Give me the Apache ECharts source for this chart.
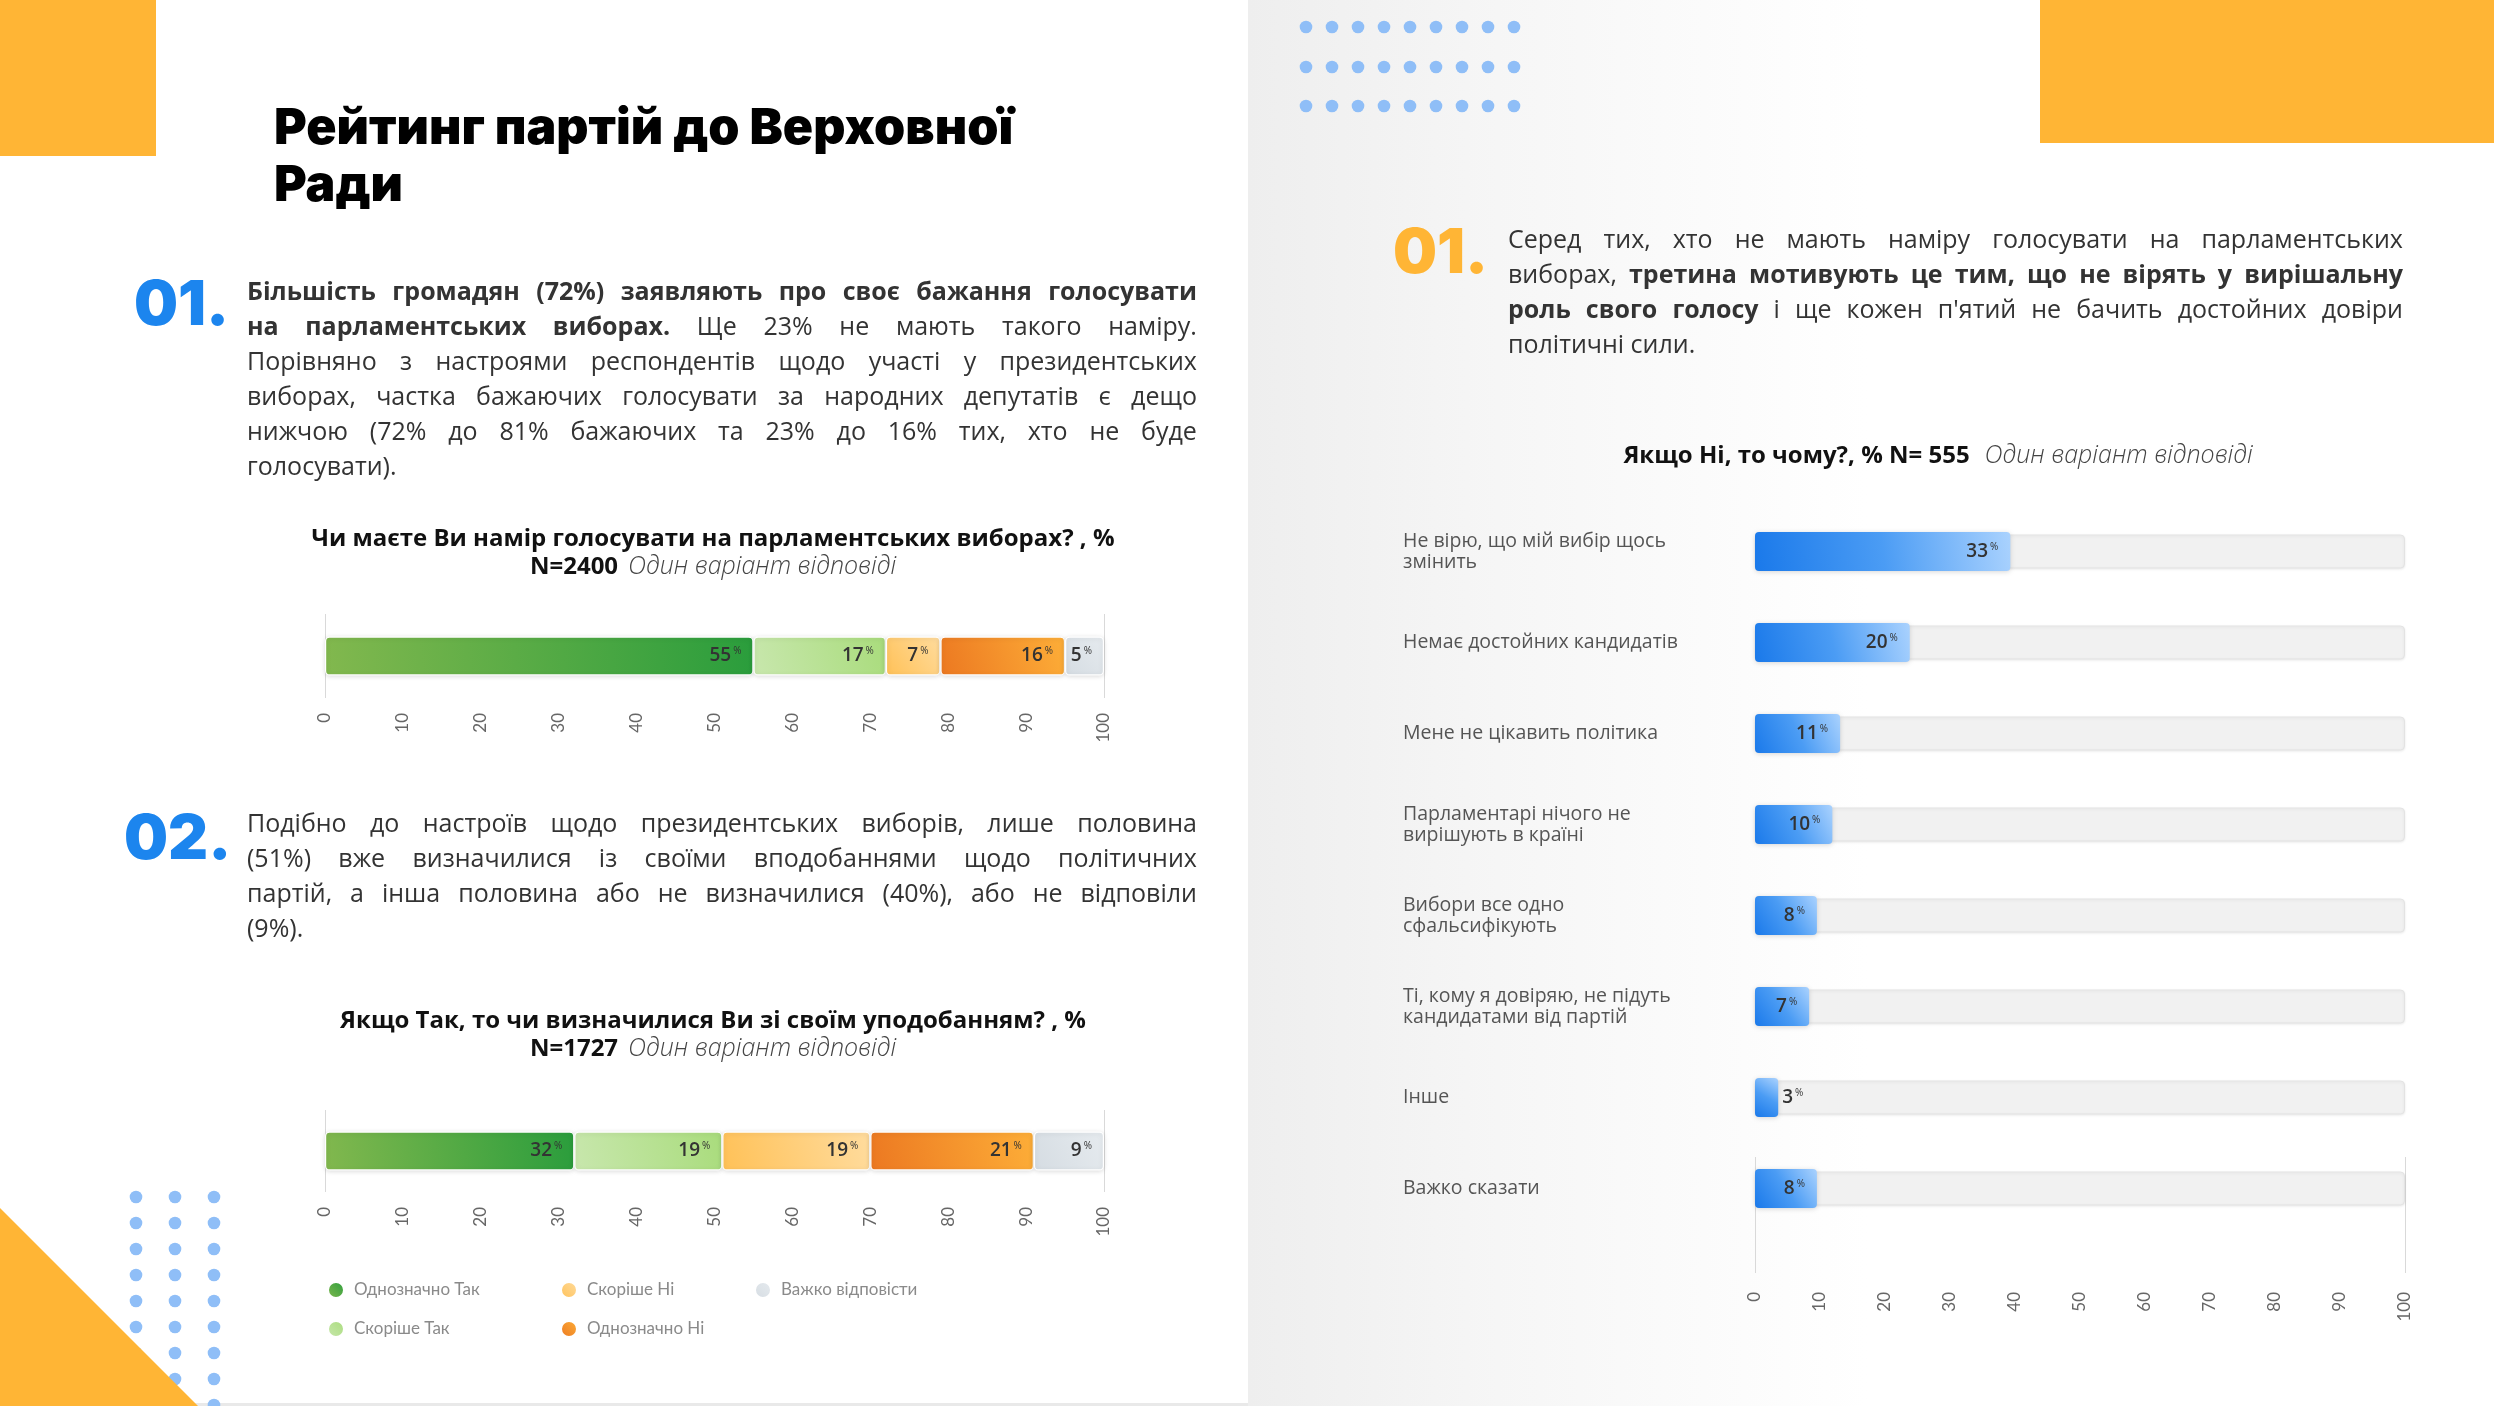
<!DOCTYPE html>
<html>
<head>
<meta charset="utf-8">
<script src="https://cdn.jsdelivr.net/npm/echarts@6/dist/echarts.min.js"></script>
<style>
html,body{margin:0;padding:0;width:2494px;height:1406px;overflow:hidden;background:#fff;}
#leftbg{position:absolute;left:0;top:0;width:1248px;height:1406px;background:#fff;}
#rightbg{position:absolute;left:1248px;top:0;width:1246px;height:1406px;background:linear-gradient(to right,#eeeeee 0px,#f6f6f6 250px,#ffffff 620px);}
#bottomstrip{position:absolute;left:0;top:1403px;width:1248px;height:3px;background:#e9e9e9;}
#chart{position:absolute;left:0;top:0;width:2494px;height:1406px;}
.para{position:absolute;font-family:'Open Sans',sans-serif;font-size:25px;color:#333;z-index:5;}
.line{height:35px;line-height:35px;white-space:nowrap;}
.line.j{display:flex;justify-content:space-between;}
.b{font-weight:700;}
</style>
</head>
<body>
<div id="leftbg"></div>
<div id="rightbg"></div>
<div id="bottomstrip"></div>
<div id="chart"></div>
<div class="para" id="p1" style="left:247px;top:273px;width:950px;"></div>
<div class="para" id="p2" style="left:247px;top:805px;width:950px;"></div>
<div class="para" id="p3" style="left:1508px;top:221px;width:895px;"></div>
<script>
// ---------------- DATA ----------------
const answerNames = ['Однозначно Так', 'Скоріше Так', 'Скоріше Ні', 'Однозначно Ні', 'Важко відповісти'];
const intentValues = [55, 17, 7, 16, 5];        // Чи маєте Ви намір голосувати ... N=2400
const certaintyValues = [32, 19, 19, 21, 9];    // Якщо Так, то чи визначилися ... N=1727
const reasonCategories = [
  'Не вірю, що мій вибір щось\nзмінить',
  'Немає достойних кандидатів',
  'Мене не цікавить політика',
  'Парламентарі нічого не\nвирішують в країні',
  'Вибори все одно\nсфальсифікують',
  'Ті, кому я довіряю, не підуть\nкандидатами від партій',
  'Інше',
  'Важко сказати'
];
const reasonValues = [33, 20, 11, 10, 8, 7, 3, 8]; // Якщо Ні, то чому? N=555
const tickMin = 0, tickMax = 100, tickStep = 10;
const reasonScaleMax = 84; // bar scale used in the reference's right chart

// ---------------- TEXT ----------------
const para1 = [
  [['Більшість громадян (72%) заявляють про своє бажання голосувати', 1]],
  [['на парламентських виборах.', 1], [' Ще 23% не мають такого наміру.', 0]],
  [['Порівняно з настроями респондентів щодо участі у президентських', 0]],
  [['виборах, частка бажаючих голосувати за народних депутатів є дещо', 0]],
  [['нижчою (72% до 81% бажаючих та 23% до 16% тих, хто не буде', 0]],
  [['голосувати).', 0]]
];
const para2 = [
  [['Подібно до настроїв щодо президентських виборів, лише половина', 0]],
  [['(51%) вже визначилися із своїми вподобаннями щодо політичних', 0]],
  [['партій, а інша половина або не визначилися (40%), або не відповіли', 0]],
  [['(9%).', 0]]
];
const para3 = [
  [['Серед тих, хто не мають наміру голосувати на парламентських', 0]],
  [['виборах, ', 0], ['третина мотивують це тим, що не вірять у вирішальну', 1]],
  [['роль свого голосу', 1], [' і ще кожен п\'ятий не бачить достойних довіри', 0]],
  [['політичні сили.', 0]]
];
function renderPara(el, lines) {
  lines.forEach((segs, li) => {
    const d = document.createElement('div');
    const last = li === lines.length - 1;
    d.className = 'line' + (last ? '' : ' j');
    if (last) {
      segs.forEach(([t, b]) => { const s = document.createElement('span'); if (b) s.className = 'b'; s.textContent = t; d.appendChild(s); });
    } else {
      segs.forEach(([t, b]) => {
        t.split(' ').filter(w => w.length).forEach(w => {
          const s = document.createElement('span'); if (b) s.className = 'b'; s.textContent = w; d.appendChild(s);
        });
      });
    }
    el.appendChild(d);
  });
}
renderPara(document.getElementById('p1'), para1);
renderPara(document.getElementById('p2'), para2);
renderPara(document.getElementById('p3'), para3);

// ---------------- CHART ----------------
function grad(c1, c2, c3) {
  const stops = c3 ? [{offset:0,color:c1},{offset:0.5,color:c2},{offset:1,color:c3}] : [{offset:0,color:c1},{offset:1,color:c2}];
  return {type:'linear', x:0, y:1, x2:1, y2:0, colorStops:stops};
}
const answerColors = [
  grad('#82b84e', '#2a9d3c'),
  grad('#c8e7ad', '#a9dc7c'),
  grad('#ffc157', '#ffdc9e'),
  grad('#ec7821', '#fdae38'),
  grad('#d5dce2', '#e6ebef')
];
const valueRich = {
  v: {fontFamily:'Open Sans', fontSize:19, fontWeight:600, color:'#333'},
  p: {fontFamily:'Open Sans', fontSize:10, color:'#333', padding:[0,0,9,2]}
};
const labelFmt = p => '{v|' + p.value + '}{p|%}';
const edgeLines = ['#d9d9d9'].concat(Array(9).fill('rgba(0,0,0,0)')).concat(['#d9d9d9']);
const tickLabel = {fontFamily:'Lato', fontSize:17, color:'#666', rotate:90};

function stackSeries(values, stackId, idx) {
  return answerNames.map((name, i) => ({
    type:'bar', name, stack:stackId, xAxisIndex:idx, yAxisIndex:idx, barWidth:39,
    data:[values[i]],
    itemStyle:{color:answerColors[i], borderRadius:4, borderColor:'#fff', borderWidth:1.2,
      shadowBlur:5, shadowColor:'rgba(0,0,0,0.13)', shadowOffsetY:1},
    label:{show:true, position:'insideRight', distance:12, formatter:labelFmt, rich:valueRich},
    emphasis:{disabled:true}
  }));
}

function valueAxis(gridIndex, margin) {
  return {type:'value', gridIndex, min:tickMin, max:tickMax, interval:tickStep,
    axisLine:{show:false}, axisTick:{show:false},
    axisLabel:Object.assign({margin}, tickLabel),
    splitLine:{show:true, lineStyle:{color:edgeLines, width:1}}};
}

const graphics = [];
graphics.push({type:'rect', shape:{x:0, y:0, width:156, height:156}, style:{fill:'#FFB535'}});
graphics.push({type:'rect', shape:{x:2040, y:0, width:454, height:143}, style:{fill:'#FFB535'}});
[27, 67, 106].forEach(y => { for (let c = 0; c < 9; c++) graphics.push({type:'circle', shape:{cx:1306 + c*26, cy:y, r:6.3}, style:{fill:'#8fbef7'}}); });
for (let r = 0; r < 9; r++) [136, 175, 214].forEach(x => graphics.push({type:'circle', shape:{cx:x, cy:1197 + r*26, r:6.3}, style:{fill:'#8fbef7'}}));
graphics.push({type:'polygon', shape:{points:[[0,1208],[198,1406],[0,1406]]}, style:{fill:'#FFB535'}});
const bigFont = {fontFamily:'Inter', fontWeight:900};
graphics.push({type:'text', style:Object.assign({text:'Рейтинг партій до Верховної', x:274, y:129, fontSize:50, fill:'#000', align:'left', verticalAlign:'middle'}, bigFont)});
graphics.push({type:'text', style:Object.assign({text:'Ради', x:274, y:186, fontSize:50, fill:'#000', align:'left', verticalAlign:'middle'}, bigFont)});
graphics.push({type:'text', style:Object.assign({text:'01.', x:134, y:306, fontSize:62, fill:'#1c85ee', align:'left', verticalAlign:'middle'}, bigFont)});
graphics.push({type:'text', style:Object.assign({text:'02.', x:124, y:840, fontSize:62, fill:'#1c85ee', align:'left', verticalAlign:'middle'}, bigFont)});
graphics.push({type:'text', style:Object.assign({text:'01.', x:1393, y:254, fontSize:62, fill:'#FFB535', align:'left', verticalAlign:'middle'}, bigFont)});

const titleRich = {
  b: {fontFamily:'Open Sans', fontWeight:700, fontSize:24, color:'#111', lineHeight:28},
  i: {fontFamily:'Open Sans', fontStyle:'italic', fontWeight:300, fontSize:25, color:'#444', lineHeight:28}
};

const option = {
  backgroundColor:'transparent',
  animation:false,
  title:[
    {text:'{b|Чи маєте Ви намір голосувати на парламентських виборах? , %}\n{b|N=2400}  {i|Один варіант відповіді}', left:708, top:520, textAlign:'center', textStyle:{rich:titleRich}},
    {text:'{b|Якщо Так, то чи визначилися Ви зі своїм уподобанням? , %}\n{b|N=1727}  {i|Один варіант відповіді}', left:708, top:1002, textAlign:'center', textStyle:{rich:titleRich}},
    {text:'{b|Якщо Ні, то чому?, % N= 555}   {i|Один варіант відповіді}', left:1933, top:437, textAlign:'center', textStyle:{rich:titleRich}}
  ],
  legend:[
    {data:answerNames.slice(0,2)},
    {data:answerNames.slice(2,4)},
    {data:answerNames.slice(4)}
  ].map((l, i) => Object.assign(l, {
    orient:'vertical', left:[322, 555, 749][i], top:1276, itemGap:21, icon:'circle',
    itemWidth:16, itemHeight:16, selectedMode:false,
    textStyle:{fontFamily:'Lato', fontSize:17, color:'#8a8a8a', padding:[0,0,0,5]}
  })),
  grid:[
    {left:325, top:614, width:779, height:84},
    {left:325, top:1110, width:779, height:82},
    {left:1755, top:506, width:650, height:728},
    {left:1755, top:1157, width:650, height:116}
  ],
  xAxis:[
    valueAxis(0, 15),
    valueAxis(1, 15),
    {type:'value', gridIndex:2, min:0, max:reasonScaleMax, show:false},
    valueAxis(3, 19)
  ],
  yAxis:[
    {type:'category', gridIndex:0, data:['intent'], show:false},
    {type:'category', gridIndex:1, data:['certainty'], show:false},
    {type:'category', gridIndex:2, data:reasonCategories, inverse:true,
      axisLine:{show:false}, axisTick:{show:false},
      axisLabel:{align:'left', margin:352, fontFamily:'Open Sans', fontSize:19.5, color:'#555', lineHeight:21}},
    {type:'category', gridIndex:3, data:['axis'], show:false},
    {type:'category', gridIndex:2, data:reasonCategories, inverse:true, show:false}
  ],
  graphic:graphics,
  series:[
    ...stackSeries(intentValues, 'intent', 0),
    ...stackSeries(certaintyValues, 'certainty', 1),
    {type:'bar', name:'track', xAxisIndex:2, yAxisIndex:4, barWidth:34, z:1, silent:true,
      data:reasonCategories.map(() => reasonScaleMax),
      itemStyle:{color:'#f1f1f1', borderColor:'#e3e3e3', borderWidth:1, borderRadius:4,
        shadowBlur:3, shadowColor:'rgba(0,0,0,0.08)', shadowOffsetY:1},
      label:{show:false}},
    {type:'bar', name:'Якщо Ні, то чому?', xAxisIndex:2, yAxisIndex:2, barWidth:39, z:3,
      data:reasonValues.map(v => v < 5 ? {value:v, label:{position:'right', distance:4}} : v),
      itemStyle:{color:grad('#1a79ea', '#4b9cf4', '#aad2fe'), borderRadius:4,
        shadowBlur:5, shadowColor:'rgba(0,0,0,0.15)', shadowOffsetY:1},
      label:{show:true, position:'insideRight', distance:12, formatter:labelFmt, rich:valueRich},
      emphasis:{disabled:true}}
  ]
};
const chart = echarts.init(document.getElementById('chart'));
chart.setOption(option);
</script>
</body>
</html>
